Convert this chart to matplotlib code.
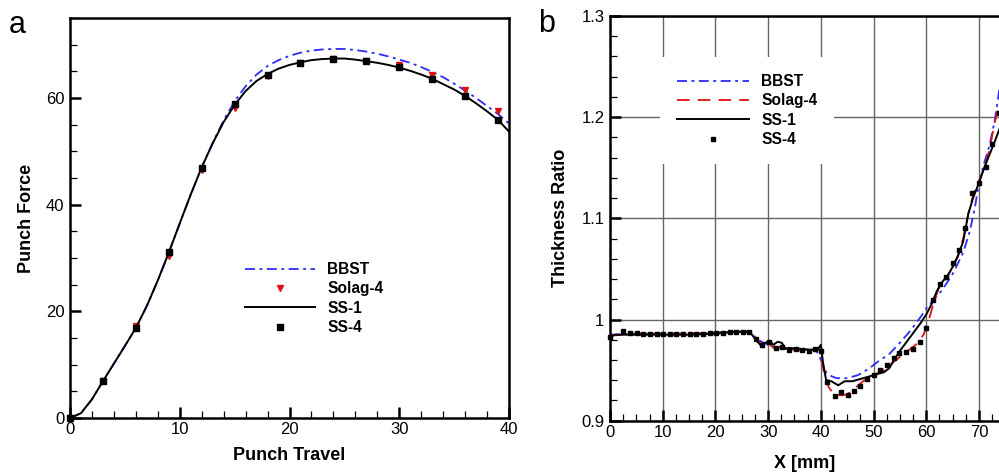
import numpy as np
import matplotlib
matplotlib.use('Agg')
import matplotlib.pyplot as plt
from matplotlib.ticker import MultipleLocator, FuncFormatter

plt.rcParams['font.family'] = ['Liberation Sans', 'DejaVu Sans']

# ---- panel a: punch force vs punch travel ----
travel = np.arange(0, 41, 1)
ss1_force = [0, 0.9, 3.5, 6.9, 10.2, 13.5, 16.9, 21.0, 25.8, 31.0, 36.5, 41.9, 47.0,
             51.5, 55.5, 58.7, 61.3, 63.2, 64.5, 65.5, 66.2, 66.7, 67.1, 67.3, 67.4,
             67.4, 67.2, 66.9, 66.6, 66.2, 65.7, 65.1, 64.4, 63.6, 62.6, 61.6, 60.4,
             59.0, 57.5, 55.9, 53.7]
bbst_force = [0, 0.9, 3.5, 6.9, 10.2, 13.5, 16.9, 21.0, 25.8, 31.0, 36.5, 41.9, 47.0,
              51.6, 55.8, 59.4, 62.2, 64.4, 66.0, 67.1, 67.9, 68.5, 68.9, 69.1, 69.2,
              69.2, 69.0, 68.7, 68.3, 67.8, 67.2, 66.6, 65.8, 64.9, 63.9, 62.7, 61.4,
              60.0, 58.5, 57.0, 55.2]
travel_pts = np.arange(0, 40, 3)
solag_force = [0, 6.9, 17.2, 30.3, 46.5, 58.1, 64.1, 66.6, 67.3, 66.9, 66.2, 64.4, 61.5, 57.5]
ss4_force = [0, 6.9, 16.9, 31.1, 46.9, 58.8, 64.3, 66.6, 67.3, 66.9, 65.8, 63.6, 60.4, 55.9]

# ---- panel b: thickness ratio along X ----
bbst_x = [0, 5, 10, 15, 20, 25, 26.5, 28, 30, 32, 35, 38, 39.3, 40.2, 41, 42, 43, 45, 47,
          49, 51, 53, 55, 57, 59, 60, 61, 63, 65, 67, 68.3, 69.2, 70, 71, 72, 73, 74, 75]
bbst_t = [0.985, 0.986, 0.986, 0.986, 0.987, 0.988, 0.988, 0.980, 0.975, 0.972, 0.971,
          0.970, 0.968, 0.958, 0.948, 0.944, 0.942, 0.942, 0.945, 0.951, 0.959, 0.966,
          0.977, 0.989, 1.003, 1.011, 1.017, 1.029, 1.045, 1.066, 1.088, 1.110, 1.135,
          1.155, 1.172, 1.197, 1.232, 1.265]

solag_x = [0, 5, 10, 15, 20, 25, 26.5, 28, 29, 30, 31, 32, 33, 35, 37, 38.5, 39.8, 40.5,
           41.5, 42.5, 44, 45, 46, 48, 50, 52, 54, 56, 58, 59.5, 60.5, 61.5, 62.5, 64,
           66, 67, 68, 69, 70, 71, 72, 73, 74, 75]
solag_t = [0.984, 0.986, 0.986, 0.986, 0.987, 0.988, 0.988, 0.979, 0.975, 0.977, 0.972,
           0.973, 0.971, 0.970, 0.969, 0.970, 0.970, 0.950, 0.933, 0.926, 0.925, 0.926,
           0.930, 0.939, 0.945, 0.950, 0.959, 0.967, 0.975, 0.985, 1.000, 1.018, 1.033,
           1.042, 1.062, 1.080, 1.105, 1.125, 1.137, 1.150, 1.168, 1.195, 1.215, 1.235]

ss1_x = [0, 1, 5, 10, 15, 20, 24, 26.5, 27.5, 28.5, 29.5, 30.3, 31, 31.8, 32.6, 33.3, 34,
         36, 38, 39.5, 40, 40.4, 41, 42, 43.3, 44.5, 46, 48.7, 50, 52, 53, 54, 55, 56, 57,
         58, 59, 60, 61, 62, 63, 64, 65, 66, 67, 68, 69, 70, 71, 72, 73, 74, 75]
ss1_t = [0.983, 0.985, 0.985, 0.985, 0.985, 0.986, 0.988, 0.988, 0.981, 0.975, 0.977,
         0.979, 0.975, 0.978, 0.977, 0.971, 0.972, 0.971, 0.970, 0.971, 0.975, 0.958,
         0.940, 0.939, 0.935, 0.939, 0.939, 0.943, 0.945, 0.948, 0.952, 0.961, 0.969,
         0.976, 0.983, 0.990, 0.997, 1.005, 1.015, 1.028, 1.037, 1.043, 1.052, 1.063,
         1.077, 1.105, 1.122, 1.135, 1.150, 1.163, 1.176, 1.190, 1.200]

ss4_x = [0, 2.5, 3.8, 5.1, 6.3, 7.6, 8.9, 10.1, 11.4, 12.6, 13.9, 15.1, 16.4, 17.7, 18.9,
         20.2, 21.4, 22.7, 23.9, 25.2, 26.4, 27.7, 28.9, 30.2, 31.4, 32.7, 33.9, 35.2,
         36.4, 37.7, 38.9, 40.0, 41.2, 42.6, 43.8, 45.1, 46.3, 47.5, 48.7, 50.0, 51.3,
         52.5, 53.8, 54.9, 56.2, 57.5, 58.8, 60.0, 61.2, 62.6, 63.8, 65.0, 66.2, 67.4,
         68.7, 70.0, 71.3, 72.5, 73.8]
ss4_t = [0.983, 0.989, 0.987, 0.987, 0.986, 0.986, 0.986, 0.986, 0.986, 0.986, 0.986,
         0.986, 0.986, 0.986, 0.987, 0.987, 0.987, 0.988, 0.988, 0.988, 0.988, 0.981,
         0.975, 0.978, 0.972, 0.973, 0.970, 0.971, 0.970, 0.969, 0.971, 0.969, 0.938,
         0.924, 0.928, 0.925, 0.929, 0.934, 0.941, 0.945, 0.950, 0.955, 0.962, 0.967,
         0.968, 0.971, 0.978, 0.992, 1.019, 1.035, 1.042, 1.056, 1.069, 1.090, 1.125,
         1.135, 1.151, 1.173, 1.204]

W, H = 999, 476
fig = plt.figure(figsize=(W / 100, H / 100), dpi=100)
dashdot = (0, (5.5, 2.5, 1.6, 2.5))
dashed = (0, (7, 4.5))

# panel a
axa = fig.add_axes([70 / W, 58 / H, 439 / W, 400 / H])
axa.plot(travel, bbst_force, color='#2b2bff', lw=1.3, ls=dashdot, label='BBST')
axa.plot(travel_pts, solag_force, ls='none', marker='v', color='#e01010', ms=5,
         clip_on=False, label='Solag-4')
axa.plot(travel, ss1_force, color='black', lw=1.4, label='SS-1')
axa.plot(travel_pts, ss4_force, ls='none', marker='s', color='black', ms=5,
         clip_on=False, zorder=3, label='SS-4')
axa.set_xlim(0, 40)
axa.set_ylim(0, 75)
axa.xaxis.set_major_locator(MultipleLocator(10))
axa.xaxis.set_minor_locator(MultipleLocator(2))
axa.yaxis.set_major_locator(MultipleLocator(20))
axa.yaxis.set_minor_locator(MultipleLocator(5))
axa.set_xlabel('Punch Travel', fontsize=13, fontweight='bold', labelpad=7)
axa.set_ylabel('Punch Force', fontsize=13, fontweight='bold', labelpad=8)
leg_a = axa.legend(loc='upper left', bbox_to_anchor=(245 / W, 1 - 262 / H),
                   bbox_transform=fig.transFigure, frameon=False,
                   prop={'weight': 'bold', 'size': 11.2},
                   handlelength=4.5, handletextpad=0.8, labelspacing=0.28, borderpad=0,
                   borderaxespad=0, numpoints=1, markerscale=0.8)

# panel b
axb = fig.add_axes([610 / W, 55.3 / H, 389 / W, 404.7 / H])
axb.grid(which='major', color='#666666', lw=1.0, zorder=0)
axb.plot(bbst_x, bbst_t, color='#2b2bff', lw=1.3, ls=dashdot, label='BBST')
axb.plot(solag_x, solag_t, color='#e01010', lw=1.3, ls=dashed, label='Solag-4')
axb.plot(ss1_x, ss1_t, color='black', lw=1.4, label='SS-1')
axb.plot(ss4_x, ss4_t, ls='none', marker='s', color='black', ms=3.2, clip_on=False,
         label='SS-4')
axb.set_xlim(0, 73.8)
axb.set_ylim(0.9, 1.3)
axb.spines['right'].set_visible(False)
axb.xaxis.set_major_locator(MultipleLocator(10))
axb.xaxis.set_minor_locator(MultipleLocator(2.5))
axb.yaxis.set_major_locator(MultipleLocator(0.1))
axb.yaxis.set_minor_locator(MultipleLocator(0.02))
axb.yaxis.set_major_formatter(FuncFormatter(lambda v, p: '{:g}'.format(round(v, 2))))
axb.set_xlabel('X [mm]', fontsize=13, fontweight='bold', labelpad=11)
axb.set_ylabel('Thickness Ratio', fontsize=13, fontweight='bold', labelpad=9)
leg_b = axb.legend(loc='upper left', bbox_to_anchor=(660 / W, 1 - 57 / H),
                   bbox_transform=fig.transFigure, frameon=True, framealpha=1,
                   fancybox=False, prop={'weight': 'bold', 'size': 11.2},
                   handlelength=4.6, handletextpad=0.8, labelspacing=0.28,
                   borderpad=1.1, borderaxespad=0, numpoints=1)
leg_b.get_frame().set_edgecolor('none')

for ax in (axa, axb):
    for s in ax.spines.values():
        s.set_linewidth(1.8)
    ax.tick_params(which='both', direction='in', top=False, right=False, labelsize=12,
                   color='black')
    ax.tick_params(which='major', length=8, width=1.8)
    ax.tick_params(which='minor', length=5, width=0.9)
    ax.tick_params(axis='y', pad=4)
    ax.tick_params(axis='x', pad=3)
    ax.set_axisbelow(True)

fig.text(9 / W, 1 - 33 / H, 'a', fontsize=22, va='baseline')
fig.text(538 / W, 1 - 32 / H, 'b', fontsize=22, va='baseline')

fig.savefig('out.png', dpi=100)
